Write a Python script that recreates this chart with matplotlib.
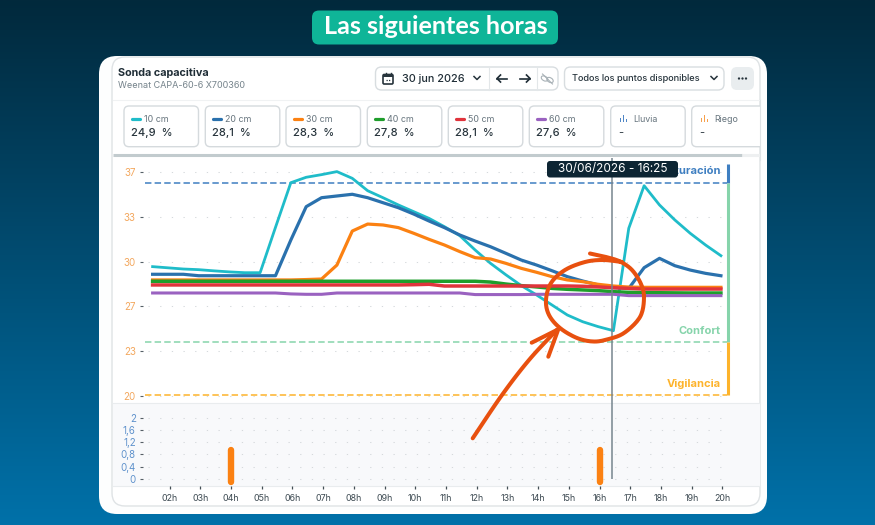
import numpy as np
import matplotlib
matplotlib.use("Agg")
import matplotlib.pyplot as plt
from matplotlib.patches import FancyBboxPatch, Rectangle, Ellipse

plt.rcParams['font.family'] = ['Inter', 'DejaVu Sans']

# ---------- data ----------
hours = [1.45 + 0.5 * i for i in range(38)]
s10 = [29.82,29.73,29.64,29.59,29.50,29.42,29.36,29.36,32.80,36.19,36.60,36.80,37.03,36.52,35.58,35.05,34.50,33.99,33.48,32.85,32.17,31.08,30.07,29.20,28.38,27.67,26.91,26.15,25.64,25.27,24.96,32.73,35.96,34.50,33.36,32.35,31.46,30.65]
s20 = [29.24,29.24,29.24,29.13,29.13,29.13,29.13,29.13,29.13,31.84,34.37,35.05,35.18,35.31,35.05,34.67,34.29,33.81,33.28,32.78,32.22,31.76,31.33,30.83,30.32,29.94,29.51,29.06,28.73,28.43,28.22,28.17,29.74,30.45,29.89,29.56,29.31,29.13]
s30 = [28.81,28.81,28.81,28.81,28.81,28.81,28.81,28.81,28.81,28.81,28.84,28.88,29.94,32.52,33.05,32.98,32.78,32.35,31.89,31.46,30.96,30.50,30.40,30.07,29.69,29.39,29.06,28.81,28.68,28.48,28.35,28.27,28.25,28.25,28.25,28.25,28.25,28.25]
s40 = [28.71,28.71,28.71,28.71,28.71,28.71,28.71,28.71,28.71,28.71,28.71,28.71,28.71,28.71,28.71,28.71,28.71,28.71,28.71,28.71,28.71,28.71,28.65,28.50,28.38,28.28,28.17,28.10,28.05,28.00,27.92,27.87,27.85,27.84,27.83,27.82,27.82,27.82]
s50 = [28.43,28.43,28.43,28.43,28.43,28.43,28.43,28.43,28.43,28.43,28.43,28.43,28.43,28.43,28.43,28.43,28.43,28.45,28.48,28.35,28.35,28.35,28.35,28.35,28.35,28.35,28.35,28.35,28.33,28.28,28.22,28.17,28.12,28.12,28.12,28.12,28.12,28.12]
s60 = [27.82,27.82,27.82,27.82,27.82,27.82,27.82,27.82,27.82,27.75,27.72,27.72,27.82,27.82,27.82,27.82,27.82,27.82,27.82,27.82,27.82,27.70,27.70,27.70,27.70,27.72,27.72,27.72,27.72,27.72,27.72,27.62,27.62,27.62,27.62,27.62,27.62,27.62]
series_names = ["10 cm", "20 cm", "30 cm", "40 cm", "50 cm", "60 cm"]
series_last = ["24,9", "28,1", "28,3", "27,8", "28,1", "27,6"]
riego_hours = [4.0, 16.02]
riego_vals = [0.95, 0.95]
sat, conf, vig = 36.17, 24.08, 20.05
y_ticks = [37, 33.6, 30.2, 26.8, 23.4, 20]
y_labels = ["37", "33", "30", "27", "23", "20"]
rain_ticks = [0, 0.4, 0.8, 1.2, 1.6, 2]
rain_labels = ["0", "0,4", "0,8", "1,2", "1,6", "2"]
x_ticks = list(range(2, 21))
x_labels = [f"{h:02d}h" for h in x_ticks]
cursor_hour = 16.42

# hand-drawn annotation, in picture pixels
circle_x = [590,606,620,632,641,644,640,624,607,593,577,560,549,546,551,565,585,603,622]
circle_y = [253.5,257,261.5,270,284,298,317,333,339.5,341.5,338,328,315,300,283,270,262,260,262]
shaft_x = [472.7,502,529,556.7]
shaft_y = [438.3,395,360,330]
head_x = [531.7,558.3,548.3]
head_y = [342.7,329.3,356.7]

colors = ["#1fbcc9", "#2a71ad", "#fb8112", "#1f9e2c", "#e0343c", "#9a62c0"]
widths = [2.0, 2.3, 2.3, 2.5, 2.5, 2.2]

W, H = 875, 525
fig = plt.figure(figsize=(W/100, H/100), dpi=100)

def px_axes(l, t, r, b, z):
    a = fig.add_axes([l/W, 1-b/H, (r-l)/W, (b-t)/H], zorder=z)
    return a

# ---------- background layer ----------
bg = fig.add_axes([0, 0, 1, 1], zorder=0)
bg.set_xlim(0, W); bg.set_ylim(H, 0); bg.axis('off')
c0 = np.array(matplotlib.colors.to_rgb("#02293c"))
c1 = np.array(matplotlib.colors.to_rgb("#0071a9"))
t = np.linspace(0, 1, 256)[:, None, None]
grad = c0[None, None, :] * (1-t) + c1[None, None, :] * t
bg.imshow(grad, extent=[0, W, H, 0], aspect='auto', zorder=0)
bg.set_xlim(0, W); bg.set_ylim(H, 0)

def rr(a, x0, y0, x1, y1, r, fc='white', ec='none', lw=1, z=1):
    a.add_patch(FancyBboxPatch((x0, y0), x1-x0, y1-y0, boxstyle=f"round,pad=0,rounding_size={r}",
                               fc=fc, ec=ec, lw=lw, zorder=z, mutation_aspect=1))

# title
rr(bg, 312, 10.5, 558, 44.5, 7, fc="#0fb598", z=2)
bg.text(435.5, 26.5, "Las siguientes horas", color='white', fontsize=18.2, fontweight='bold',
        family=['Lato', 'DejaVu Sans'], ha='center', va='center', zorder=3)

# cards
rr(bg, 99, 56, 767, 514, 18, fc="#fdfefe", z=2)
rr(bg, 112, 57, 760, 506, 13, fc="white", ec="#dfe3e5", lw=1, z=3)

# header
bg.text(117.5, 72.5, "Sonda capacitiva", color="#1f2d36", fontsize=7.8, fontweight='bold', va='center', zorder=5)
bg.text(117.5, 86, "Weenat CAPA-60-6 X700360", color="#75838b", fontsize=6.5, va='center', zorder=5)
rr(bg, 375.5, 67, 558, 90, 6, fc="white", ec="#d8dde0", lw=1, z=4)
bg.plot([489, 489], [67, 90], color="#e3e7e9", lw=0.8, zorder=5)
bg.plot([536.7, 536.7], [67, 90], color="#e3e7e9", lw=0.8, zorder=5)
# calendar icon
rr(bg, 383, 74.5, 393, 84, 1.2, fc="white", ec="#27343c", lw=1.2, z=5)
bg.add_patch(Rectangle((383, 74.5), 10, 2.5, fc="#27343c", zorder=6))
bg.plot([385.5, 385.5], [73, 75], color="#27343c", lw=1, zorder=6)
bg.plot([390.5, 390.5], [73, 75], color="#27343c", lw=1, zorder=6)
bg.plot([385.5, 390.5], [80, 80], color="#27343c", lw=0.9, ls=(0, (1, 1)), zorder=6)
bg.text(401.5, 78.5, "30 jun 2026", color="#1f2d36", fontsize=7.8, fontweight='medium', va='center', zorder=5)
def chevron(x, y, c="#27343c"):
    bg.plot([x-3, x, x+3], [y-1.5, y+1.5, y-1.5], color=c, lw=1.1, zorder=6)
chevron(477, 78)
# arrows
bg.plot([497, 507], [78.5, 78.5], color="#1f2d36", lw=1.2, zorder=6)
bg.plot([500.5, 497, 500.5], [75, 78.5, 82], color="#1f2d36", lw=1.2, zorder=6)
bg.plot([520, 530], [78.5, 78.5], color="#1f2d36", lw=1.2, zorder=6)
bg.plot([526.5, 530, 526.5], [75, 78.5, 82], color="#1f2d36", lw=1.2, zorder=6)
# unlink icon
bg.add_patch(Ellipse((544.5, 78.5), 7, 4.5, angle=30, fc='none', ec="#a9b2b7", lw=0.8, zorder=6))
bg.add_patch(Ellipse((550, 80), 7, 4.5, angle=30, fc='none', ec="#a9b2b7", lw=0.8, zorder=6))
bg.plot([542.5, 552.5], [74, 84], color="#a9b2b7", lw=0.8, zorder=6)
# dropdown
rr(bg, 564.5, 67, 724, 90, 6, fc="white", ec="#d8dde0", lw=1, z=4)
bg.text(572, 78.5, "Todos los puntos disponibles", color="#27343c", fontsize=6.6, fontweight='medium', va='center', zorder=5)
chevron(714, 78)
rr(bg, 731, 67, 754, 90, 6, fc="#e9edef", z=4)
for dx in (-3.5, 0, 3.5):
    bg.add_patch(Ellipse((742.5+dx, 78.5), 2.3, 2.3, fc="#27343c", zorder=6))
bg.plot([112.5, 759.5], [100, 100], color="#f0f2f3", lw=0.8, zorder=4)

# pills
pill_x = [124, 205.3, 286, 367.3, 448.3, 529.3, 610.7, 691.7]
for i, x in enumerate(pill_x):
    rr(bg, x, 106, min(x+74.5, 772), 146.7, 5, fc="white", ec="#d5dadd", lw=1, z=4)
    if i < 6:
        bg.plot([x+8, x+15.5], [119, 119], color=colors[i], lw=2.3, solid_capstyle='round', zorder=6)
        bg.text(x+19.5, 119, series_names[i], color="#66747d", fontsize=6.4, va='center', zorder=6)
        bg.text(x+7, 133.5, series_last[i] + "  %", color="#27343c", fontsize=8.0, fontweight='medium', va='center', zorder=6)
    else:
        c = "#4f86c6" if i == 6 else "#f7a04b"
        for dx, h in zip((0, 3, 6), (4, 7, 3)):
            bg.add_patch(Rectangle((x+9+dx, 122-h), 1.7, h, fc=c, zorder=6))
        bg.text(x+22.5, 119, "Lluvia" if i == 6 else "Riego", color="#66747d", fontsize=6.4, va='center', zorder=6)
        bg.text(x+8, 133.5, "-", color="#27343c", fontsize=8.0, va='center', zorder=6)
# mask right overflow of the pills: white frame beyond the panel
bg.add_patch(Rectangle((760.5, 100), 6.5, 60, fc="#fdfefe", zorder=7))
bg.plot([760, 760], [100, 160], color="#dfe3e5", lw=0.8, zorder=8)
# scrollbar
bg.plot([112.5, 742], [155, 155], color="#c2cbce", lw=2.2, zorder=5, solid_capstyle='butt')
bg.plot([742, 759.5], [155, 155], color="#eef0f1", lw=2.2, zorder=5, solid_capstyle='butt')
# rain band
bg.add_patch(Rectangle((112.5, 403), 647, 83, fc="#f8f9fb", zorder=4))
bg.plot([112.5, 759.5], [403, 403], color="#e9ecee", lw=0.8, zorder=5)
bg.plot([112.5, 759.5], [486, 486], color="#e9ecee", lw=0.8, zorder=5)

# ---------- charts ----------
X_L, X_R = 143, 735
def hour_at(px):
    return 2 + (px - 169.5) / 30.72
xlim = (hour_at(X_L), hour_at(X_R))
dot = (0, (1.2, 10))

ax = px_axes(X_L, 158, X_R, 403, 2)
ax.patch.set_alpha(0)
ax.set_xlim(*xlim)
ax.set_ylim(37 - (403-172)/13.18, 37 + (172-158)/13.18)
for sp in ax.spines.values():
    sp.set_visible(False)
ax.set_xticks([])
ax.set_yticks(y_ticks)
ax.set_yticklabels(y_labels, fontsize=7.0, color="#f3a85f")
ax.tick_params(axis='y', length=2.2, width=0.8, color="#555f66", pad=3)
x_start, x_end = hour_at(148), hour_at(727)
ax.hlines(y_ticks, x_start, x_end, color="#d5d9dc", lw=0.75, linestyle=dot, zorder=1)
dash_start = hour_at(145)
thr_x = hour_at(727.7)
dash = (0, (4.2, 2.1))
ax.hlines(sat, dash_start, x_end, color="#3f7fc1", lw=1.1, linestyle=dash, zorder=2)
ax.hlines(conf, dash_start, x_end, color="#86d4ab", lw=1.1, linestyle=dash, zorder=2)
ax.hlines(vig, dash_start, x_end, color="#fdb32b", lw=1.1, linestyle=dash, zorder=2)
ax.vlines(thr_x, sat, 37.6, color="#3f7fc1", lw=2.2, zorder=2)
ax.vlines(thr_x, conf, sat, color="#86d4ab", lw=2.2, zorder=2)
ax.vlines(thr_x, vig, conf, color="#fdb32b", lw=2.2, zorder=2)
for vals, c, w in zip([s10, s20, s30, s40, s50, s60], colors, widths):
    ax.plot(hours, vals, color=c, lw=w, zorder=3, solid_joinstyle='round')
ax.vlines(cursor_hour, ax.get_ylim()[0], ax.get_ylim()[1], color="#76858e", lw=1.1, zorder=4)

rax = px_axes(X_L, 403, X_R, 486, 2)
rax.patch.set_alpha(0)
rax.set_xlim(*xlim)
rax.set_ylim((479-486)/30.65, (479-403)/30.65)
for sp in rax.spines.values():
    sp.set_visible(False)
rax.set_yticks(rain_ticks)
rax.set_yticklabels(rain_labels, fontsize=7.0, color="#5f92cc")
rax.set_xticks(x_ticks)
rax.set_xticklabels(x_labels, fontsize=6.4, color="#3d4a52")
rax.tick_params(axis='y', length=2.2, width=0.8, color="#555f66", pad=3)
rax.tick_params(axis='x', length=2.4, width=0.9, color="#444f56", pad=3.2)
rax.hlines(rain_ticks, x_start, x_end, color="#d5d9dc", lw=0.75, linestyle=dot, zorder=1)
rax.vlines(riego_hours, -0.1, riego_vals, color="#fb8112", lw=4.6, capstyle='round', zorder=3, clip_on=False)
rax.vlines(cursor_hour, 0.0, rax.get_ylim()[1], color="#76858e", lw=1.1, zorder=4)

# ---------- overlay ----------
ov = fig.add_axes([0, 0, 1, 1], zorder=5)
ov.patch.set_alpha(0)
ov.set_xlim(0, W); ov.set_ylim(H, 0); ov.axis('off')
ov.text(721, 171.5, "Saturación", color="#3f7fc1", fontsize=8.0, fontweight='bold', ha='right', va='center', zorder=1)
ov.text(721, 331, "Confort", color="#86d4ab", fontsize=8.0, fontweight='bold', ha='right', va='center', zorder=1)
ov.text(721, 384, "Vigilancia", color="#fdb32b", fontsize=8.0, fontweight='bold', ha='right', va='center', zorder=1)
rr(ov, 547, 161, 678, 177.5, 3, fc="#0d2533", z=2)
ov.text(612.5, 169.3, "30/06/2026 - 16:25", color="white", fontsize=8.5, ha='center', va='center', zorder=3)

def smooth(xs, ys, n=12):
    P = np.column_stack([xs, ys])
    P = np.vstack([2*P[0]-P[1], P, 2*P[-1]-P[-2]])
    out = []
    for i in range(1, len(P)-2):
        for u in np.linspace(0, 1, n, endpoint=False):
            out.append(0.5*((2*P[i]) + (P[i+1]-P[i-1])*u + (2*P[i-1]-5*P[i]+4*P[i+1]-P[i+2])*u**2
                            + (-P[i-1]+3*P[i]-3*P[i+1]+P[i+2])*u**3))
    out.append(P[-2])
    return np.array(out)
red = "#e8500f"
cp = smooth(circle_x, circle_y)
ov.plot(cp[:, 0], cp[:, 1], color=red, lw=2.9, solid_capstyle='round', solid_joinstyle='round', zorder=4)
sp_ = smooth(shaft_x, shaft_y)
ov.plot(sp_[:, 0], sp_[:, 1], color=red, lw=2.9, solid_capstyle='round', zorder=4)
ov.plot(head_x, head_y, color=red, lw=2.9, solid_capstyle='round', solid_joinstyle='round', zorder=4)

fig.savefig("out.png", dpi=100)
